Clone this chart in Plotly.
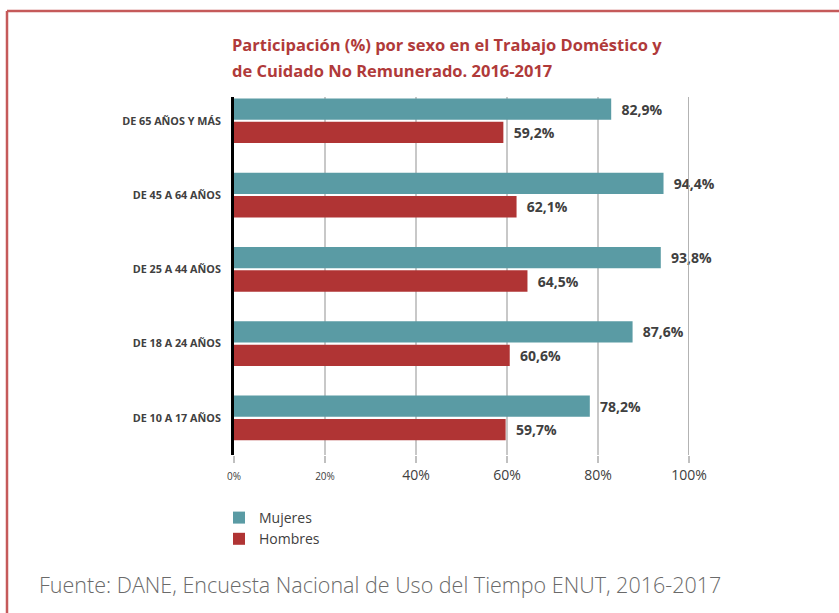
import plotly.graph_objects as go

categories = ["DE 10 A 17 AÑOS", "DE 18 A 24 AÑOS", "DE 25 A 44 AÑOS", "DE 45 A 64 AÑOS", "DE 65 AÑOS Y MÁS"]
mujeres = [78.2, 87.6, 93.8, 94.4, 82.9]
hombres = [59.7, 60.6, 64.5, 62.1, 59.2]
tick_vals = [0, 20, 40, 60, 80, 100]
tick_labels = ["0%", "20%", "40%", "60%", "80%", "100%"]
small_ticks = {"0%", "20%"}
title_lines = ["Participación (%) por sexo en el Trabajo Doméstico y",
               "de Cuidado No Remunerado. 2016-2017"]
source = "Fuente: DANE, Encuesta Nacional de Uso del Tiempo ENUT, 2016-2017"

TEAL = "#5a9ba4"
RED = "#b03434"
TXT = "#404040"

W, H = 839, 613
L, R, T, B = 234, 150, 97, 158
PW, PH = W - L - R, H - T - B


def px(x):
    return (x - L) / PW


def py(y):
    return (H - B - y) / PH


def fmt(v):
    return "\u00a0\u00a0" + f"{v:.1f}".replace(".", ",") + "%"


ypos = list(range(len(categories)))
valfont = dict(family="Open Sans", size=14, color=TXT, weight="bold")

fig = go.Figure()
fig.add_trace(go.Bar(
    y=ypos, x=hombres, orientation="h", name="Hombres",
    marker=dict(color=RED, line=dict(width=0)),
    text=[fmt(v) for v in hombres], textposition="outside",
    textfont=valfont, cliponaxis=False, legendrank=2, hoverinfo="skip",
))
fig.add_trace(go.Bar(
    y=ypos, x=mujeres, orientation="h", name="Mujeres",
    marker=dict(color=TEAL, line=dict(width=0)),
    text=[fmt(v) for v in mujeres], textposition="outside",
    textfont=valfont, cliponaxis=False, legendrank=1, hoverinfo="skip",
))

ticktext = [
    f'<span style="font-size:10px">{t}</span>' if t in small_ticks else t
    for t in tick_labels
]

title_font = dict(size=16.5, color="#b03a3a", family="Open Sans", weight="bold")

fig.update_layout(
    width=W, height=H,
    margin=dict(l=L, r=R, t=T, b=B),
    paper_bgcolor="white", plot_bgcolor="white",
    barmode="group", bargap=0.37, bargroupgap=0.09,
    font=dict(family="Open Sans", color=TXT),
    showlegend=True,
    legend=dict(
        x=px(219), y=py(502), xanchor="left", yanchor="top",
        font=dict(size=14, color=TXT, family="Open Sans"),
        tracegroupgap=0, itemwidth=30, bgcolor="rgba(0,0,0,0)",
    ),
    xaxis=dict(
        range=[0, 100], tickvals=tick_vals, ticktext=ticktext,
        showgrid=True, gridcolor="#c8c8c8", gridwidth=1.5,
        zeroline=False, showline=False,
        ticks="outside", ticklen=7, tickcolor="#c0c0c0", tickwidth=1.5,
        tickfont=dict(size=14, color=TXT, family="Open Sans"),
        fixedrange=True,
    ),
    yaxis=dict(
        range=[-0.5, 4.32], tickvals=ypos, ticktext=categories,
        showgrid=False, zeroline=False,
        showline=True, linecolor="black", linewidth=3,
        ticks="", ticklabelstandoff=8,
        tickfont=dict(size=10.8, color=TXT, family="Open Sans", weight="bold"),
        fixedrange=True,
    ),
    shapes=[
        dict(type="line", xref="x", yref="paper", x0=100, x1=100, y0=0, y1=1,
             line=dict(color="#9a9a9a", width=1.5)),
        dict(type="line", xref="paper", yref="paper", x0=px(7), x1=px(845), y0=py(11), y1=py(11),
             line=dict(color="#c55a5a", width=2.5)),
        dict(type="line", xref="paper", yref="paper", x0=px(7), x1=px(7), y0=py(11), y1=py(620),
             line=dict(color="#c55a5a", width=2.5)),
    ],
    annotations=[
        dict(text=title_lines[0], xref="paper", yref="paper", x=px(230), y=py(44),
             xanchor="left", yanchor="middle", showarrow=False, font=title_font),
        dict(text=title_lines[1], xref="paper", yref="paper", x=px(230), y=py(70),
             xanchor="left", yanchor="middle", showarrow=False, font=title_font),
        dict(text=source, xref="paper", yref="paper", x=px(37), y=py(584),
             xanchor="left", yanchor="middle", showarrow=False,
             font=dict(size=21.5, color="#6a6a6a", family="Open Sans", weight=300)),
    ],
)

fig.write_html(
    "out.html",
    config={"displayModeBar": False},
    post_script="document.body.style.margin='0';document.body.style.padding='0';",
)
